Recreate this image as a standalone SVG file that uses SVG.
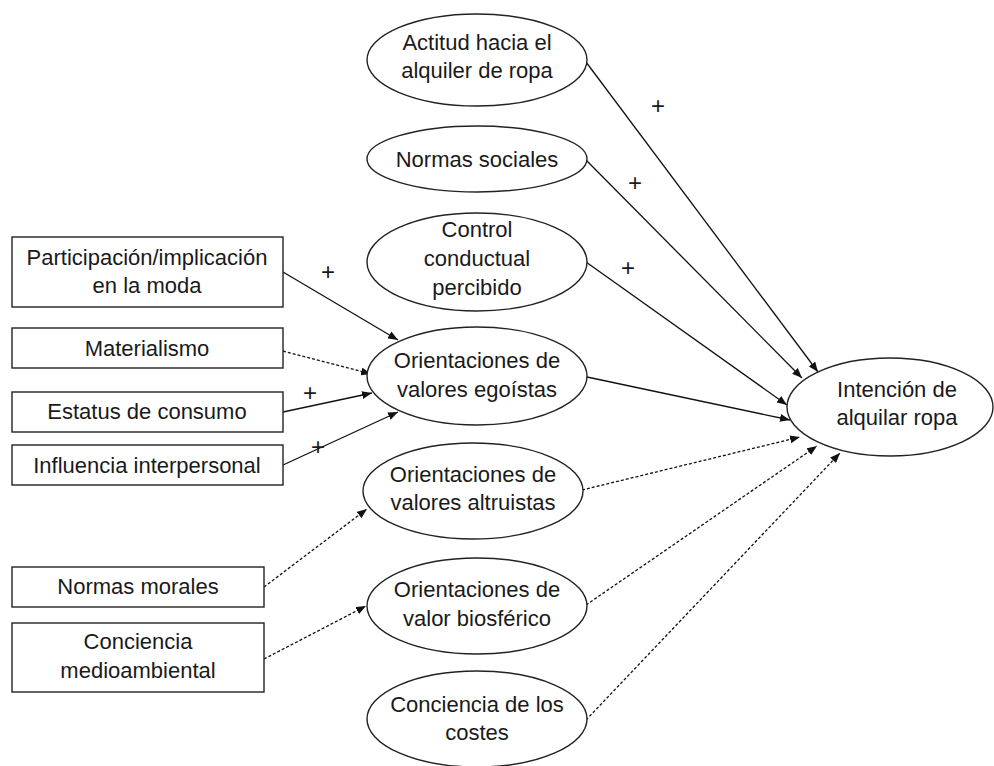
<svg xmlns="http://www.w3.org/2000/svg" width="994" height="766" viewBox="0 0 994 766">
<style>
.n{fill:#fff;stroke:#222;stroke-width:1.4}
.t{font-family:"Liberation Sans",Arial,sans-serif;font-size:22px;fill:#1a1a1a;text-anchor:middle}
.p{font-family:"Liberation Sans",Arial,sans-serif;font-size:24px;fill:#1a1a1a;text-anchor:middle}
.c{fill:none;stroke:#111;stroke-width:1.3}
.d{stroke-dasharray:3 2}
</style>
<defs>
<marker id="ah" viewBox="0 0 10 8" refX="10" refY="4" markerWidth="10" markerHeight="8" markerUnits="userSpaceOnUse" orient="auto">
<path d="M0,0 L10,4 L0,8 z" fill="#111"/>
</marker>
</defs>
<rect width="994" height="766" fill="#fff"/>
<g id="connectors">
<line class="c" x1="586" y1="62" x2="818" y2="372" marker-end="url(#ah)"/>
<line class="c" x1="586" y1="160" x2="802" y2="378" marker-end="url(#ah)"/>
<line class="c" x1="586" y1="262" x2="787" y2="405" marker-end="url(#ah)"/>
<line class="c" x1="587" y1="377" x2="790" y2="420" marker-end="url(#ah)"/>
<line class="c d" x1="582" y1="490" x2="800" y2="437" marker-end="url(#ah)"/>
<line class="c d" x1="586" y1="605" x2="817" y2="446" marker-end="url(#ah)"/>
<line class="c d" x1="586" y1="720" x2="840" y2="453" marker-end="url(#ah)"/>
<line class="c" x1="283" y1="272" x2="398" y2="340" marker-end="url(#ah)"/>
<line class="c d" x1="283" y1="351" x2="371" y2="374" marker-end="url(#ah)"/>
<line class="c" x1="283" y1="412" x2="372" y2="393" marker-end="url(#ah)"/>
<line class="c" x1="283" y1="465" x2="398" y2="412" marker-end="url(#ah)"/>
<line class="c d" x1="264" y1="587" x2="367" y2="509" marker-end="url(#ah)"/>
<line class="c d" x1="264" y1="659" x2="366" y2="606" marker-end="url(#ah)"/>
<text class="p" x="658" y="114">+</text>
<text class="p" x="635" y="191">+</text>
<text class="p" x="628" y="276">+</text>
<text class="p" x="328" y="280">+</text>
<text class="p" x="310" y="401">+</text>
<text class="p" x="318" y="455">+</text>
</g>
<g id="actitud">
<ellipse class="n" cx="477" cy="60" rx="110" ry="46"/>
<text class="t" x="477" y="50">Actitud hacia el</text>
<text class="t" x="477" y="78">alquiler de ropa</text>
</g>
<g id="normas-sociales">
<ellipse class="n" cx="477" cy="159" rx="110" ry="33"/>
<text class="t" x="477" y="167">Normas sociales</text>
</g>
<g id="control">
<ellipse class="n" cx="477" cy="262" rx="110" ry="49"/>
<text class="t" x="477" y="237">Control</text>
<text class="t" x="477" y="266">conductual</text>
<text class="t" x="477" y="295">percibido</text>
</g>
<g id="egoistas">
<ellipse class="n" cx="477" cy="376" rx="110" ry="49"/>
<text class="t" x="477" y="368">Orientaciones de</text>
<text class="t" x="477" y="397">valores egoístas</text>
</g>
<g id="altruistas">
<ellipse class="n" cx="473" cy="491" rx="110" ry="48"/>
<text class="t" x="473" y="482">Orientaciones de</text>
<text class="t" x="473" y="510">valores altruistas</text>
</g>
<g id="biosferico">
<ellipse class="n" cx="477" cy="606" rx="110" ry="48"/>
<text class="t" x="477" y="597">Orientaciones de</text>
<text class="t" x="477" y="626">valor biosférico</text>
</g>
<g id="costes">
<ellipse class="n" cx="477" cy="719" rx="110" ry="48"/>
<text class="t" x="477" y="712">Conciencia de los</text>
<text class="t" x="477" y="740">costes</text>
</g>
<g id="intencion">
<ellipse class="n" cx="890" cy="407" rx="103" ry="49"/>
<text class="t" x="897" y="397">Intención de</text>
<text class="t" x="897" y="425">alquilar ropa</text>
</g>
<g id="participacion">
<rect class="n" x="12" y="237" width="271" height="70"/>
<text class="t" x="147" y="265">Participación/implicación</text>
<text class="t" x="147" y="293">en la moda</text>
</g>
<g id="materialismo">
<rect class="n" x="12" y="328" width="271" height="40"/>
<text class="t" x="147" y="356">Materialismo</text>
</g>
<g id="estatus">
<rect class="n" x="12" y="392" width="271" height="40"/>
<text class="t" x="147" y="419">Estatus de consumo</text>
</g>
<g id="influencia">
<rect class="n" x="12" y="445" width="271" height="40"/>
<text class="t" x="147" y="473">Influencia interpersonal</text>
</g>
<g id="normas-morales">
<rect class="n" x="12" y="567" width="252" height="40"/>
<text class="t" x="138" y="594">Normas morales</text>
</g>
<g id="conciencia-medioambiental">
<rect class="n" x="12" y="623" width="252" height="69"/>
<text class="t" x="138" y="649">Conciencia</text>
<text class="t" x="138" y="678">medioambiental</text>
</g>
</svg>
